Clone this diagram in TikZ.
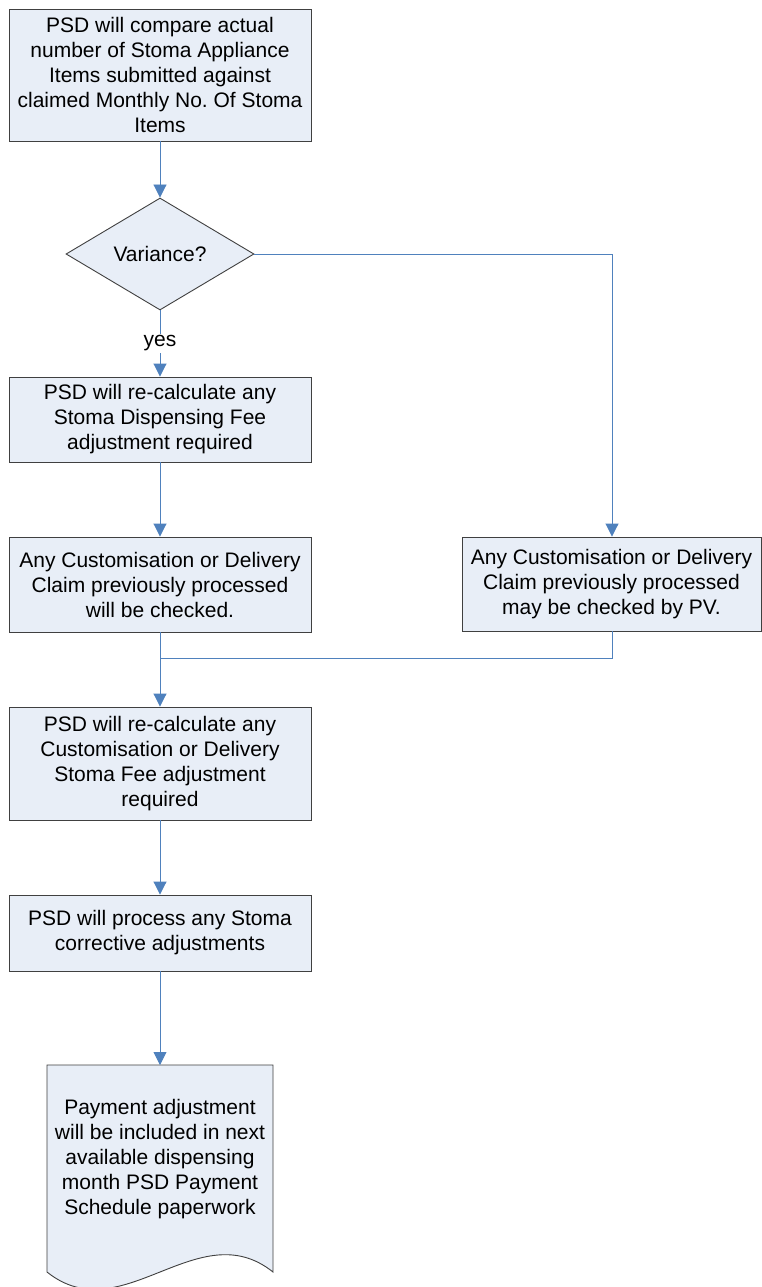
\documentclass[tikz,border=0pt]{standalone}
\usepackage{fontspec}
\setmainfont{Liberation Sans}
\usetikzlibrary{arrows.meta,shapes.geometric}
\definecolor{boxfill}{RGB}{232,238,247}
\definecolor{boxline}{RGB}{64,64,64}
\definecolor{conn}{RGB}{79,129,189}
\frenchspacing
\tikzset{
  procbox/.style={draw=boxline, fill=boxfill, line width=0.9pt, rectangle, inner sep=0pt,
    align=center, font=\fontsize{21}{25}\selectfont},
  decbox/.style={draw=boxline, fill=boxfill, line width=0.9pt, diamond, inner sep=0pt,
    minimum width=188pt, minimum height=112pt, font=\fontsize{21}{25}\selectfont},
  conline/.style={draw=conn, line width=0.9pt},
  conarrow/.style={conline, -{Triangle[width=13pt,length=13pt]}},
}
\begin{document}
\begin{tikzpicture}[x=1pt,y=-1pt]
\useasboundingbox (0,0) rectangle (762,1287);
\fill[white] (0,0) rectangle (762,1287);

\node[procbox, minimum width=302pt, minimum height=132pt] (b1) at (160,75)
  {PSD will compare actual\\number of Stoma Appliance\\Items submitted against\\claimed Monthly No. Of Stoma\\Items};
\node[decbox] (d) at (160,254) {Variance?};
\node[procbox, minimum width=302pt, minimum height=85pt] (b2) at (160,419.5)
  {PSD will re-calculate any\\Stoma Dispensing Fee\\adjustment required};
\node[procbox, minimum width=302pt, minimum height=95pt] (b3) at (160,584.5)
  {Any Customisation or Delivery\\Claim previously processed\\will be checked.};
\node[procbox, minimum width=299pt, minimum height=94pt] (r) at (611.5,584)
  {Any Customisation or Delivery\\Claim previously processed\\may be checked by PV.};
\node[procbox, minimum width=302pt, minimum height=113pt] (b4) at (160,763.5)
  {PSD will re-calculate any\\Customisation or Delivery\\Stoma Fee adjustment\\required};
\node[procbox, minimum width=302pt, minimum height=76pt] (b5) at (160,933)
  {PSD will process any Stoma\\corrective adjustments};

% document shape
\path[draw=boxline, fill=boxfill, line width=0.9pt]
  (47,1065) -- (273,1065) -- (273,1272)
  .. controls (198,1212) and (122,1332) .. (47,1272) -- cycle;
\node[align=center, font=\fontsize{21}{25}\selectfont, inner sep=0pt] (doc) at (160,1159)
  {Payment adjustment\\will be included in next\\available dispensing\\month PSD Payment\\Schedule paperwork};
\coordinate (doctop) at (160,1065);

\coordinate (m) at (160,658);
\coordinate (rc) at (612,254);

\draw[conarrow] (b1) -- (d);
\draw[conarrow] (d) -- node[fill=white, inner sep=2pt, font=\fontsize{21}{25}\selectfont, pos=0.5] {yes} (b2);
\draw[conline] (d.east) -- (rc);
\draw[conarrow] (rc) -- (rc |- r.north);
\draw[conarrow] (b2) -- (b3);
\draw[conline] (r.south -| rc) |- (m);
\draw[conarrow] (b3) -- (b4);
\draw[conarrow] (b4) -- (b5);
\draw[conarrow] (b5) -- (doctop);
\end{tikzpicture}
\end{document}
